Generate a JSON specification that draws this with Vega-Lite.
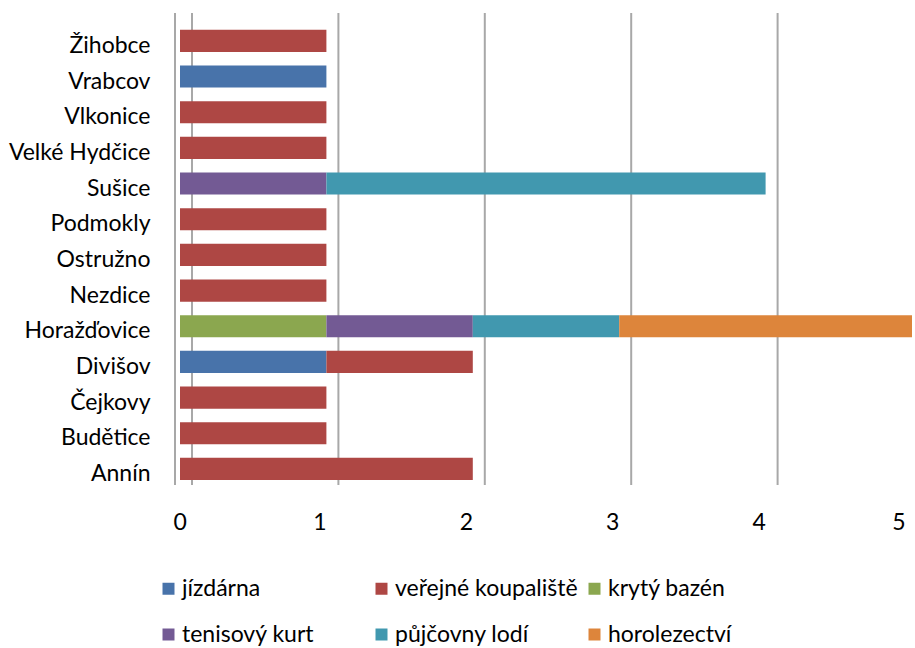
{
  "$schema": "https://vega.github.io/schema/vega-lite/v6.json",
  "autosize": {"type": "none"},
  "width": 732,
  "height": 472,
  "padding": {"left": 180, "top": 13, "right": 3, "bottom": 163},
  "background": "white",
  "config": {
    "view": {"stroke": null},
    "font": "Lato",
    "axis": {"labelFont": "Lato", "labelFontSize": 23, "labelColor": "#000000", "labelLimit": 300},
    "legend": {"labelFont": "Lato", "labelFontSize": 23, "labelColor": "#000000", "labelLimit": 300}
  },
  "datasets": {
    "grid": [{"v": 0}, {"v": 1}, {"v": 2}, {"v": 3}, {"v": 4}, {"v": 5}],
    "wall": [{"v": 0}],
    "bars": [
      {"obec": "Žihobce", "typ": "veřejné koupaliště", "n": 1, "o": 2},
      {"obec": "Vrabcov", "typ": "jízdárna", "n": 1, "o": 1},
      {"obec": "Vlkonice", "typ": "veřejné koupaliště", "n": 1, "o": 2},
      {"obec": "Velké Hydčice", "typ": "veřejné koupaliště", "n": 1, "o": 2},
      {"obec": "Sušice", "typ": "tenisový kurt", "n": 1, "o": 4},
      {"obec": "Sušice", "typ": "půjčovny lodí", "n": 3, "o": 5},
      {"obec": "Podmokly", "typ": "veřejné koupaliště", "n": 1, "o": 2},
      {"obec": "Ostružno", "typ": "veřejné koupaliště", "n": 1, "o": 2},
      {"obec": "Nezdice", "typ": "veřejné koupaliště", "n": 1, "o": 2},
      {"obec": "Horažďovice", "typ": "krytý bazén", "n": 1, "o": 3},
      {"obec": "Horažďovice", "typ": "tenisový kurt", "n": 1, "o": 4},
      {"obec": "Horažďovice", "typ": "půjčovny lodí", "n": 1, "o": 5},
      {"obec": "Horažďovice", "typ": "horolezectví", "n": 2, "o": 6},
      {"obec": "Divišov", "typ": "jízdárna", "n": 1, "o": 1},
      {"obec": "Divišov", "typ": "veřejné koupaliště", "n": 1, "o": 2},
      {"obec": "Čejkovy", "typ": "veřejné koupaliště", "n": 1, "o": 2},
      {"obec": "Budětice", "typ": "veřejné koupaliště", "n": 1, "o": 2},
      {"obec": "Annín", "typ": "veřejné koupaliště", "n": 2, "o": 2}
    ]
  },
  "layer": [
    {
      "data": {"name": "grid"},
      "mark": {"type": "rule", "color": "#a8a8a8", "strokeWidth": 2, "xOffset": 12},
      "encoding": {
        "x": {"field": "v", "type": "quantitative", "scale": {"domain": [0, 5], "nice": false, "zero": true},
          "axis": {"title": null, "values": [0, 1, 2, 3, 4, 5], "grid": false, "domain": false, "ticks": false, "labelPadding": 26, "labelOffset": -7, "format": "d"}}
      }
    },
    {
      "data": {"name": "wall"},
      "mark": {"type": "rule", "color": "#a8a8a8", "strokeWidth": 2, "xOffset": -5},
      "encoding": {
        "x": {"field": "v", "type": "quantitative"}
      }
    },
    {
      "data": {"name": "bars"},
      "mark": {"type": "bar"},
      "encoding": {
        "y": {"field": "obec", "type": "nominal",
          "scale": {"domain": ["Žihobce", "Vrabcov", "Vlkonice", "Velké Hydčice", "Sušice", "Podmokly", "Ostružno", "Nezdice", "Horažďovice", "Divišov", "Čejkovy", "Budětice", "Annín"],
            "paddingInner": 0.38, "paddingOuter": 0.3065, "align": 0.77},
          "axis": {"title": null, "domain": false, "ticks": false, "grid": false, "labelPadding": 30, "labelOffset": 5}},
        "x": {"field": "n", "type": "quantitative", "stack": "zero"},
        "order": {"field": "o", "type": "quantitative"},
        "color": {"field": "typ", "type": "nominal",
          "scale": {"domain": ["jízdárna", "veřejné koupaliště", "krytý bazén", "tenisový kurt", "půjčovny lodí", "horolezectví"],
            "range": ["#4873AA", "#AE4744", "#8BA74F", "#735A94", "#4198AF", "#DD853B"]},
          "legend": {"title": null, "orient": "none", "direction": "horizontal", "legendX": -23, "legendY": 564, "columns": 3, "gridAlign": "all",
            "symbolType": "square", "symbolSize": 144, "symbolStrokeWidth": 0, "labelOffset": 2, "columnPadding": 5, "rowPadding": 22}}
      }
    }
  ]
}
